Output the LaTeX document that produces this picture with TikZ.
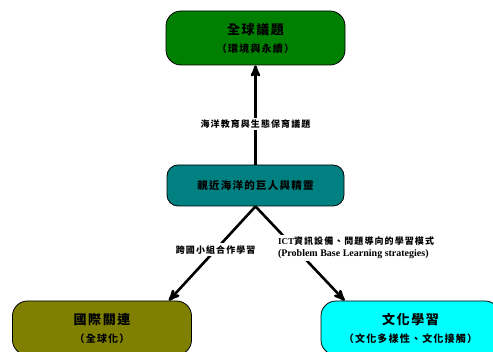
\documentclass[tikz,border=0pt]{standalone}
\usepackage{fontspec}
\setmainfont{Liberation Serif}
\newfontfamily\cjk{Noto Sans CJK TC}[LetterSpace=12]
\usetikzlibrary{calc}
\usetikzlibrary{arrows}
\definecolor{globalgreen}{RGB}{0,128,0}
\definecolor{oceanteal}{RGB}{0,128,128}
\definecolor{intlolive}{RGB}{128,128,0}
\definecolor{culturecyan}{RGB}{0,255,255}

\begin{document}
\begin{tikzpicture}[x=1pt, y=-1pt,
  box/.style={draw=black, line width=.8, rounded corners=15, minimum width=179, minimum height=54, align=center, font=\cjk\bfseries},
  lbl/.style={fill=white, inner sep=2, font=\cjk\bfseries\fontsize{9}{12}\selectfont},
  arr/.style={black, line width=2.6, ->, >=stealth'}]
\useasboundingbox (0,0) rectangle (493,352);
\node[box, fill=globalgreen] (global) at (255.5,38) {{\fontsize{13}{19}\selectfont 全球議題}\\[6pt]{\fontsize{10}{19}\selectfont （環境與永續）}};
\node[box, fill=oceanteal, minimum width=177, minimum height=41, rounded corners=11] (ocean) at (255.5,185.5) {\fontsize{10.5}{12}\selectfont 親近海洋的巨人與精靈};
\node[box, fill=intlolive] (intl) at (102,328) {{\fontsize{13}{19}\selectfont 國際關連}\\[6pt]{\fontsize{10}{19}\selectfont （全球化）}};
\node[box, fill=culturecyan] (culture) at (410.5,328) {{\fontsize{13}{19}\selectfont 文化學習}\\[6pt]{\fontsize{10}{19}\selectfont （文化多樣性、文化接觸）}};
\draw[arr] (ocean.north) -- (global.south) node[lbl, pos=.41] {海洋教育與生態保育議題};
\draw[arr] (ocean.south) -- ($(intl.north east)+(-23,0)$) node[lbl, pos=.46] {跨國小組合作學習};
\draw[arr] (ocean.south) -- ($(culture.north west)+(24,0)$) node[lbl, pos=.44, anchor=west, xshift=-20, align=left] {{\rmfamily\bfseries ICT}資訊設備、問題導向的學習模式\\{\rmfamily\bfseries\fontsize{10}{12}\selectfont (Problem Base Learning strategies)}};
\end{tikzpicture}
\end{document}
